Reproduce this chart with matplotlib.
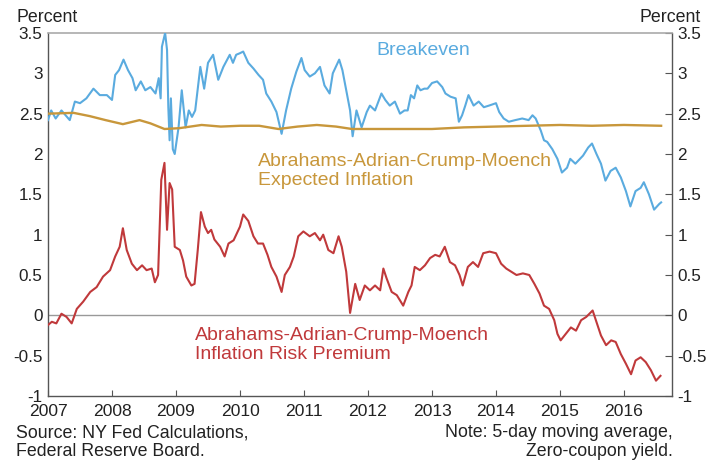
import matplotlib
matplotlib.use("Agg")
import matplotlib.pyplot as plt
import matplotlib.ticker as ticker

plt.rcParams["font.family"] = ["Liberation Sans", "DejaVu Sans"]
plt.rcParams["axes.unicode_minus"] = False

# breakeven inflation (decimal year, percent)
be_x = [2007.00, 2007.05, 2007.12, 2007.21, 2007.34, 2007.42, 2007.50, 2007.60, 2007.71,
        2007.81, 2007.92, 2008.00, 2008.05, 2008.11, 2008.18, 2008.25, 2008.32, 2008.37,
        2008.45, 2008.52, 2008.60, 2008.68, 2008.73, 2008.76, 2008.78, 2008.83, 2008.86,
        2008.88, 2008.90, 2008.92, 2008.95, 2008.98, 2009.04, 2009.09, 2009.15, 2009.20,
        2009.25, 2009.30, 2009.38, 2009.44, 2009.50, 2009.58, 2009.66, 2009.74, 2009.84,
        2009.89, 2009.94, 2010.00, 2010.05, 2010.13, 2010.21, 2010.29, 2010.36, 2010.41,
        2010.49, 2010.57, 2010.65, 2010.72, 2010.80, 2010.88, 2010.96, 2011.01, 2011.09,
        2011.17, 2011.25, 2011.32, 2011.40, 2011.45, 2011.55, 2011.60, 2011.66, 2011.72,
        2011.76, 2011.82, 2011.90, 2011.98, 2012.03, 2012.11, 2012.21, 2012.27, 2012.34,
        2012.42, 2012.50, 2012.57, 2012.62, 2012.67, 2012.72, 2012.77, 2012.82, 2012.88,
        2012.93, 2013.00, 2013.08, 2013.16, 2013.21, 2013.29, 2013.37, 2013.42, 2013.47,
        2013.52, 2013.57, 2013.65, 2013.73, 2013.81, 2013.89, 2014.00, 2014.05, 2014.12,
        2014.20, 2014.30, 2014.41, 2014.51, 2014.57, 2014.62, 2014.70, 2014.75, 2014.80,
        2014.88, 2014.96, 2015.03, 2015.11, 2015.16, 2015.24, 2015.36, 2015.44, 2015.50,
        2015.57, 2015.64, 2015.71, 2015.79, 2015.87, 2015.95, 2016.03, 2016.10, 2016.18,
        2016.26, 2016.31, 2016.39, 2016.47, 2016.55, 2016.58]
be_y = [2.42, 2.54, 2.44, 2.54, 2.42, 2.65, 2.63, 2.69, 2.81,
        2.73, 2.73, 2.67, 2.98, 3.04, 3.17, 3.04, 2.94, 2.79,
        2.90, 2.79, 2.83, 2.75, 2.94, 2.69, 3.33, 3.50, 3.29,
        2.58, 2.17, 2.69, 2.06, 2.00, 2.33, 2.79, 2.33, 2.54,
        2.46, 2.54, 3.08, 2.81, 3.13, 3.23, 2.92, 3.08, 3.23,
        3.13, 3.23, 3.25, 3.27, 3.13, 3.06, 2.98, 2.92, 2.75,
        2.65, 2.52, 2.25, 2.54, 2.81, 3.02, 3.19, 3.04, 2.96,
        3.00, 3.08, 2.85, 2.75, 3.00, 3.17, 3.04, 2.79, 2.54,
        2.22, 2.54, 2.33, 2.52, 2.60, 2.54, 2.75, 2.67, 2.60,
        2.65, 2.50, 2.54, 2.54, 2.73, 2.69, 2.85, 2.79, 2.81,
        2.81, 2.88, 2.90, 2.83, 2.75, 2.71, 2.69, 2.40, 2.48,
        2.60, 2.73, 2.60, 2.65, 2.58, 2.60, 2.63, 2.52, 2.44,
        2.40, 2.42, 2.44, 2.42, 2.48, 2.44, 2.29, 2.17, 2.15,
        2.06, 1.94, 1.77, 1.83, 1.94, 1.88, 1.98, 2.08, 2.13,
        2.00, 1.88, 1.67, 1.79, 1.83, 1.71, 1.54, 1.35, 1.54,
        1.58, 1.65, 1.50, 1.31, 1.38, 1.40]

# expected inflation (ACM model)
ei_x = [2007.0, 2007.4, 2007.65, 2007.9, 2008.17, 2008.43, 2008.6, 2008.82, 2009.05,
        2009.4, 2009.7, 2010.0, 2010.3, 2010.6, 2010.9, 2011.2, 2011.5, 2011.75,
        2012.0, 2012.5, 2013.0, 2013.5, 2014.0, 2014.5, 2015.0, 2015.5, 2016.0, 2016.58]
ei_y = [2.50, 2.51, 2.47, 2.42, 2.37, 2.42, 2.38, 2.31, 2.32,
        2.36, 2.34, 2.35, 2.35, 2.31, 2.34, 2.36, 2.34, 2.31,
        2.31, 2.31, 2.31, 2.33, 2.34, 2.35, 2.36, 2.35, 2.36, 2.35]

# inflation risk premium (ACM model)
rp_x = [2007.00, 2007.06, 2007.13, 2007.21, 2007.29, 2007.37, 2007.45, 2007.55, 2007.66,
        2007.76, 2007.86, 2007.97, 2008.05, 2008.12, 2008.17, 2008.23, 2008.31, 2008.39,
        2008.47, 2008.54, 2008.62, 2008.67, 2008.72, 2008.77, 2008.82, 2008.86, 2008.90,
        2008.94, 2008.98, 2009.06, 2009.11, 2009.16, 2009.24, 2009.29, 2009.34, 2009.39,
        2009.45, 2009.50, 2009.55, 2009.60, 2009.69, 2009.76, 2009.82, 2009.90, 2010.00,
        2010.05, 2010.13, 2010.21, 2010.28, 2010.36, 2010.43, 2010.49, 2010.57, 2010.65,
        2010.70, 2010.78, 2010.84, 2010.91, 2010.99, 2011.09, 2011.17, 2011.25, 2011.30,
        2011.38, 2011.46, 2011.54, 2011.59, 2011.66, 2011.72, 2011.80, 2011.87, 2011.95,
        2012.03, 2012.11, 2012.19, 2012.24, 2012.29, 2012.37, 2012.45, 2012.55, 2012.63,
        2012.68, 2012.73, 2012.81, 2012.89, 2012.97, 2013.05, 2013.12, 2013.20, 2013.28,
        2013.36, 2013.43, 2013.48, 2013.56, 2013.64, 2013.72, 2013.80, 2013.90, 2014.00,
        2014.08, 2014.16, 2014.24, 2014.32, 2014.42, 2014.52, 2014.60, 2014.68, 2014.75,
        2014.83, 2014.91, 2014.96, 2015.01, 2015.09, 2015.17, 2015.25, 2015.33, 2015.41,
        2015.46, 2015.51, 2015.56, 2015.64, 2015.72, 2015.80, 2015.87, 2015.95, 2016.03,
        2016.11, 2016.18, 2016.26, 2016.34, 2016.42, 2016.50, 2016.57]
rp_y = [-0.12, -0.08, -0.10, 0.02, -0.02, -0.10, 0.08, 0.17, 0.29,
        0.35, 0.48, 0.56, 0.73, 0.85, 1.08, 0.81, 0.64, 0.56,
        0.62, 0.56, 0.58, 0.41, 0.50, 1.68, 1.89, 1.06, 1.64,
        1.56, 0.85, 0.81, 0.68, 0.48, 0.37, 0.39, 0.81, 1.28,
        1.10, 1.02, 1.06, 0.94, 0.85, 0.73, 0.89, 0.93, 1.10,
        1.25, 1.17, 0.98, 0.89, 0.89, 0.75, 0.60, 0.48, 0.29,
        0.50, 0.60, 0.73, 0.98, 1.04, 0.98, 1.02, 0.93, 1.00,
        0.81, 0.77, 0.98, 0.85, 0.54, 0.03, 0.39, 0.19, 0.37,
        0.31, 0.37, 0.31, 0.58, 0.46, 0.29, 0.25, 0.12, 0.29,
        0.37, 0.60, 0.56, 0.62, 0.71, 0.75, 0.73, 0.85, 0.66,
        0.62, 0.50, 0.37, 0.60, 0.66, 0.60, 0.77, 0.79, 0.77,
        0.64, 0.58, 0.54, 0.50, 0.52, 0.50, 0.39, 0.27, 0.12,
        0.08, -0.06, -0.23, -0.31, -0.23, -0.15, -0.19, -0.06, -0.02,
        0.02, 0.06, -0.06, -0.25, -0.37, -0.31, -0.33, -0.48, -0.60,
        -0.73, -0.56, -0.52, -0.58, -0.68, -0.81, -0.75]

years = list(range(2007, 2017))
yticks = [-1, -0.5, 0, 0.5, 1, 1.5, 2, 2.5, 3, 3.5]

BLUE = "#5aabdf"
ORANGE = "#c8973b"
RED = "#c0393b"
TXT = "#222222"

fig = plt.figure(figsize=(7.09, 4.65), dpi=100)
ax = fig.add_axes([48 / 709, 1 - 396 / 465, 624 / 709, 363 / 465])

ax.axhline(0, color="#999999", lw=1.0, zorder=1)
ax.plot(be_x, be_y, color=BLUE, lw=1.5, zorder=3)
ax.plot(ei_x, ei_y, color=ORANGE, lw=1.7, zorder=4)
ax.plot(rp_x, rp_y, color=RED, lw=1.5, zorder=3)

ax.set_xlim(2007, 2016.75)
ax.set_ylim(-1, 3.5)
ax.set_xticks(years)
ax.set_yticks(yticks)
ax.yaxis.set_major_formatter(ticker.FuncFormatter(lambda v, p: f"{v:g}"))

ax.tick_params(axis="x", direction="in", length=4, color="#555555",
               labelsize=12.6, labelcolor=TXT, pad=6)
ax.tick_params(axis="y", direction="in", length=5, color="#555555",
               left=False, right=True, labelleft=True, labelright=True,
               labelsize=12.3, labelcolor=TXT, pad=4)

for s in ["left", "bottom", "right"]:
    ax.spines[s].set_color("#555555")
    ax.spines[s].set_linewidth(1.0)
ax.spines["top"].set_color("#aaaaaa")
ax.spines["top"].set_linewidth(1.2)

ax.text(0.602, 0.953, "Breakeven", transform=ax.transAxes, color=BLUE,
        fontsize=14, ha="center", va="center")
ax.text(0.336, 0.62, "Abrahams-Adrian-Crump-Moench\nExpected Inflation",
        transform=ax.transAxes, color=ORANGE, fontsize=14, ha="left",
        va="center", linespacing=1.15)
ax.text(0.235, 0.14, "Abrahams-Adrian-Crump-Moench\nInflation Risk Premium",
        transform=ax.transAxes, color=RED, fontsize=14, ha="left",
        va="center", linespacing=1.15)

fig.text(16 / 709, 1 - 18 / 465, "Percent", fontsize=12.8, color=TXT,
         ha="left", va="center")
fig.text(701 / 709, 1 - 18 / 465, "Percent", fontsize=12.8, color=TXT,
         ha="right", va="center")
fig.text(16 / 709, 1 - 442 / 465, "Source: NY Fed Calculations,\nFederal Reserve Board.",
         fontsize=12.8, color=TXT, ha="left", va="center", linespacing=1.1)
fig.text(673 / 709, 1 - 442 / 465, "Note: 5-day moving average,\nZero-coupon yield.",
         fontsize=12.8, color=TXT, ha="right", va="center", linespacing=1.1,
         multialignment="right")

fig.savefig("out.png", dpi=100)
